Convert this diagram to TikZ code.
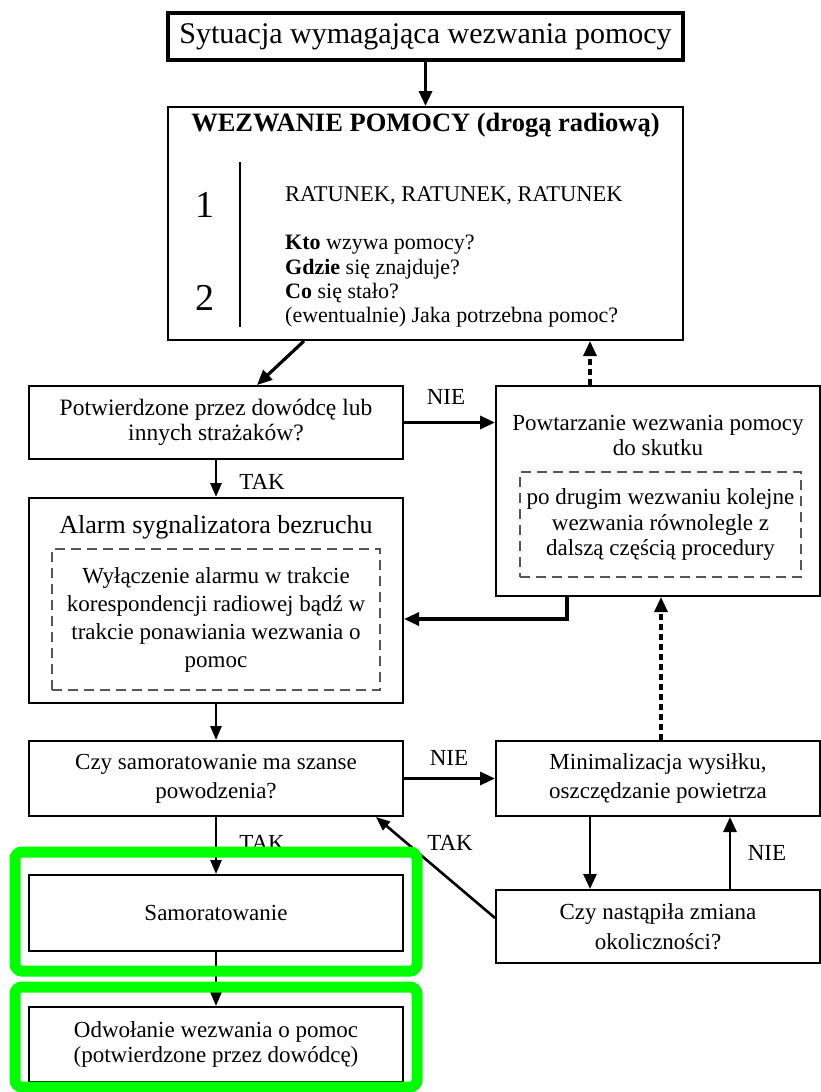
\documentclass[tikz,border=0pt]{standalone}
\usepackage{fontspec}
\setmainfont{Liberation Serif}
\usetikzlibrary{arrows.meta}
\definecolor{hl}{RGB}{0,255,0}
\definecolor{dashgray}{RGB}{85,85,85}
\begin{document}
\begin{tikzpicture}[x=1pt,y=-1pt,
  box/.style={draw, line width=2pt, rectangle, inner sep=0pt, align=center, font=\fontsize{23}{26}\selectfont},
  inbox/.style={draw=dashgray, line width=1.3pt, dash pattern=on 10pt off 6pt, rectangle, inner sep=0pt, align=center, font=\fontsize{23}{26}\selectfont},
  txt/.style={inner sep=0pt, font=\fontsize{22}{26}\selectfont},
  lbl/.style={inner sep=0pt, font=\fontsize{23}{26}\selectfont},
  thk/.style={line width=3.2pt, -{Triangle[length=15pt,width=13pt]}},
  thn/.style={line width=2.6pt, -{Triangle[length=14pt,width=11pt]}},
  dsh/.style={line width=3.2pt, dash pattern=on 6pt off 4pt, -{Triangle[length=15pt,width=13pt]}},
  hlbox/.style={draw=hl, line width=11pt, rounded corners=7pt}
]
\useasboundingbox (0,0) rectangle (821,1092);

% top box
\node[box, line width=3.5pt, minimum width=515pt, minimum height=47pt, font=\fontsize{30}{34}\selectfont] (top) at (425.5,36.5) {Sytuacja wymagająca wezwania pomocy};

% big box
\node[box, minimum width=515pt, minimum height=233pt] (big) at (425.5,223.5) {};
\node[txt, font=\bfseries\fontsize{26.5}{30}\selectfont] (bigt) at (425.5,125) {WEZWANIE POMOCY (drogą radiową)};
\node[txt, font=\fontsize{38}{40}\selectfont] (n1) at (205,205) {1};
\node[txt, font=\fontsize{38}{40}\selectfont] (n2) at (205,298) {2};
\coordinate (vt) at (240,162);
\coordinate (vb) at (240,327);
\draw[line width=1.5pt] (vt) -- (vb);
\node[txt, anchor=west, font=\fontsize{22.5}{26}\selectfont] (rat) at (285,196) {RATUNEK, RATUNEK, RATUNEK};
\node[txt, anchor=west] (q1) at (285,245) {\textbf{Kto} wzywa pomocy?};
\node[txt, anchor=west] (q2) at (285,269) {\textbf{Gdzie} się znajduje?};
\node[txt, anchor=west] (q3) at (285,293) {\textbf{Co} się stało?};
\node[txt, anchor=west] (q4) at (285,317) {(ewentualnie) Jaka potrzebna pomoc?};

% left column
\node[box, minimum width=374pt, minimum height=73pt, font=\fontsize{23.5}{25}\selectfont] (pot) at (216,422.5) {Potwierdzone przez dowódcę lub\\innych strażaków?};
\node[box, minimum width=374pt, minimum height=205pt] (alarm) at (216,600.5) {};
\node[txt, font=\fontsize{26}{30}\selectfont] (alarmt) at (216,527) {Alarm sygnalizatora bezruchu};
\node[inbox, minimum width=328pt, minimum height=141pt, font=\fontsize{23}{28}\selectfont] (alarmin) at (216,619.5) {Wyłączenie alarmu w trakcie\\korespondencji radiowej bądź w\\trakcie ponawiania wezwania o\\pomoc};
\node[box, minimum width=374pt, minimum height=75pt, font=\fontsize{23}{29}\selectfont] (czy) at (216,778.5) {Czy samoratowanie ma szanse\\powodzenia?};
\node[box, minimum width=374pt, minimum height=76pt] (samo) at (216,913) {Samoratowanie};
\node[box, minimum width=374pt, minimum height=75pt, font=\fontsize{23}{25}\selectfont] (odw) at (216,1044.5) {Odwołanie wezwania o pomoc\\(potwierdzone przez dowódcę)};

% right column
\node[box, minimum width=324pt, minimum height=210pt] (rep) at (658,491) {};
\node[txt, align=center, font=\fontsize{23}{25}\selectfont] (rept) at (658,435.5) {Powtarzanie wezwania pomocy\\do skutku};
\node[inbox, minimum width=281pt, minimum height=105pt, font=\fontsize{23}{25.5}\selectfont] (repin) at (660.5,524.5) {po drugim wezwaniu kolejne\\wezwania równolegle z\\dalszą częścią procedury};
\node[box, minimum width=324pt, minimum height=75pt, font=\fontsize{23}{29}\selectfont] (min) at (658,778.5) {Minimalizacja wysiłku,\\oszczędzanie powietrza};
\node[box, minimum width=324pt, minimum height=73pt, font=\fontsize{23}{30}\selectfont] (nast) at (658,926.5) {Czy nastąpiła zmiana\\okoliczności?};

% labels
\node[lbl] (nie1) at (446,397) {NIE};
\node[lbl] (tak1) at (262,482) {TAK};
\node[lbl] (nie2) at (449,758) {NIE};
\node[lbl] (tak2) at (262,843) {TAK};
\node[lbl] (tak3) at (450,843) {TAK};
\node[lbl] (nie3) at (767,853) {NIE};

% helper coordinates
\coordinate (xa) at (304,0);
\coordinate (xb) at (257,0);
\coordinate (c1) at (567,619);
\coordinate (xd) at (590,0);
\coordinate (xe) at (661,0);
\coordinate (xf) at (730,0);
\coordinate (ys) at (0,918);
\coordinate (xg) at (376,0);

% connectors
\draw[thk] (top.south) -- (big.north);
\draw[thk] (big.south -| xa) -- (pot.north -| xb);
\draw[thk] (pot.east) -- (pot.east -| rep.west);
\draw[thn] (pot.south) -- (alarm.north);
\draw[thk, line join=miter] (rep.south -| c1) |- (c1 -| alarm.east);
\draw[dsh] (rep.north -| xd) -- (big.south -| xd);
\draw[thn] (alarm.south) -- (czy.north);
\draw[thk] (czy.east) -- (min.west);
\draw[dsh] (min.north -| xe) -- (rep.south -| xe);
\draw[thn] (czy.south) -- (samo.north);
\draw[thn] (samo.south) -- (odw.north);
\draw[thk, line width=2.8pt] (min.south -| xd) -- (nast.north -| xd);
\draw[thk, line width=2.8pt] (nast.north -| xf) -- (min.south -| xf);
\draw[thn] (ys -| nast.west) -- (czy.south -| xg);

% highlight frames
\draw[hlbox] (15,852) rectangle (417,971);
\draw[hlbox] (15,987) rectangle (417,1087);
\end{tikzpicture}
\end{document}
